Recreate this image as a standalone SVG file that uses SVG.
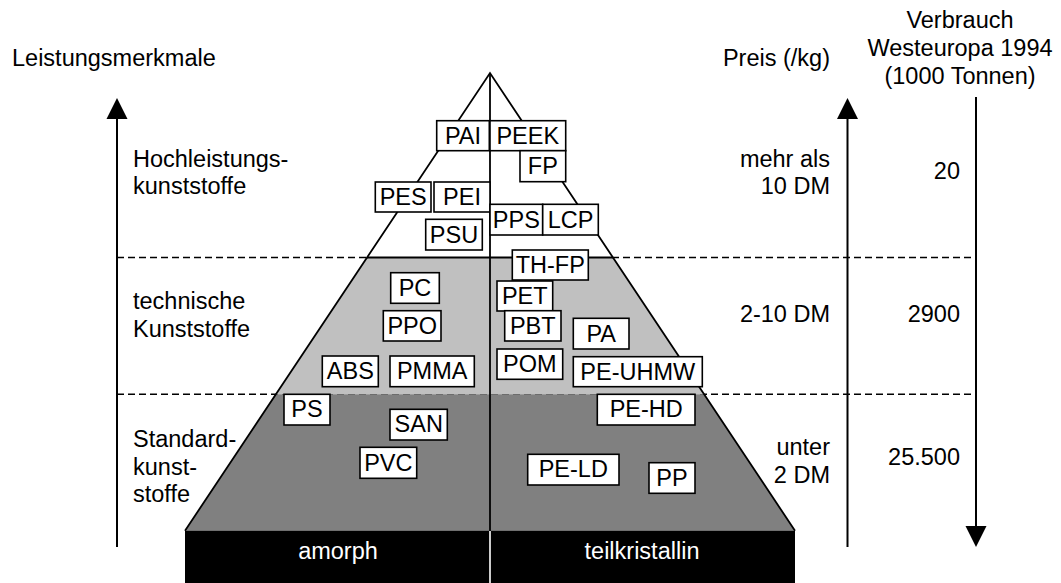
<svg xmlns="http://www.w3.org/2000/svg" width="1061" height="583" viewBox="0 0 1061 583">
<style>
text{font-family:"Liberation Sans",Arial,sans-serif;font-size:23.5px;fill:#000}
.c{text-anchor:middle}
.e{text-anchor:end}
.w{fill:#fff}
.box rect{fill:#fff;stroke:#000;stroke-width:1.6}
.dash{stroke:#000;stroke-width:1.6;stroke-dasharray:7,4;fill:none}
.ax{stroke:#000;stroke-width:2;fill:none}
.edge{stroke:#000;stroke-width:1.8;fill:none;stroke-linejoin:miter}
</style>
<rect width="1061" height="583" fill="#fff"/>
<g id="guides">
<line class="dash" x1="117" y1="257.5" x2="976" y2="257.5"/>
<line class="dash" x1="117" y1="394.3" x2="976" y2="394.3"/>
</g>
<g id="pyramid">
<polygon points="490,73 367,257.5 613,257.5" fill="#fff"/>
<polygon points="367,257.5 613,257.5 704.2,394.3 275.8,394.3" fill="#c0c0c0"/>
<polygon points="275.8,394.3 704.2,394.3 795,530.7 185,530.7" fill="#808080"/>
<polyline class="edge" points="185,530.7 490,73 795,530.7"/>
<line class="edge" x1="367" y1="257.5" x2="613" y2="257.5"/>
<line class="edge" x1="490" y1="73" x2="490" y2="531"/>
<rect x="185" y="530.7" width="610" height="52.3" fill="#000"/>
<line x1="490" y1="531" x2="490" y2="583" stroke="#fff" stroke-width="1.6"/>
<text class="c w" x="338" y="559">amorph</text>
<text class="c w" x="642" y="559">teilkristallin</text>
</g>
<g id="connectors">
<line class="ax" x1="117" y1="117" x2="117" y2="547"/>
<polygon points="117,98 106.5,119 127.5,119"/>
<line class="ax" x1="847.5" y1="117" x2="847.5" y2="547"/>
<polygon points="847.5,98 837,119 858,119"/>
<line class="ax" x1="976" y1="97" x2="976" y2="528"/>
<polygon points="976,547 965.5,526 986.5,526"/>
</g>
<g id="labels">
<text x="12" y="66">Leistungsmerkmale</text>
<text class="e" x="830" y="66">Preis (/kg)</text>
<text class="c" x="960" y="28">Verbrauch</text>
<text class="c" x="960" y="56">Westeuropa 1994</text>
<text class="c" x="960" y="84">(1000 Tonnen)</text>
<text x="133" y="166.5">Hochleistungs-</text>
<text x="133" y="194">kunststoffe</text>
<text x="133" y="309">technische</text>
<text x="133" y="337">Kunststoffe</text>
<text x="133" y="447">Standard-</text>
<text x="133" y="474.5">kunst-</text>
<text x="133" y="502">stoffe</text>
<text class="e" x="830" y="166.5">mehr als</text>
<text class="e" x="830" y="194">10 DM</text>
<text class="e" x="830" y="322">2-10 DM</text>
<text class="e" x="830" y="455">unter</text>
<text class="e" x="830" y="482.5">2 DM</text>
<text class="e" x="960" y="179">20</text>
<text class="e" x="960" y="322">2900</text>
<text class="e" x="960" y="465">25.500</text>
</g>
<g class="box" id="n-PAI"><rect x="436.7" y="120.7" width="52.6" height="30"/><text class="c" x="463" y="143.5">PAI</text></g>
<g class="box" id="n-PEEK"><rect x="490" y="120.7" width="75.7" height="30"/><text class="c" x="527.8" y="143.5">PEEK</text></g>
<g class="box" id="n-FP"><rect x="520" y="150.7" width="45.7" height="31"/><text class="c" x="542.8" y="174">FP</text></g>
<g class="box" id="n-PES"><rect x="375.3" y="182" width="55.7" height="30"/><text class="c" x="403.2" y="205">PES</text></g>
<g class="box" id="n-PEI"><rect x="434" y="182" width="56" height="30"/><text class="c" x="462" y="205">PEI</text></g>
<g class="box" id="n-PPS"><rect x="490" y="204.3" width="52.7" height="30.7"/><text class="c" x="516.3" y="227.5">PPS</text></g>
<g class="box" id="n-LCP"><rect x="542.7" y="204.3" width="55.6" height="30.7"/><text class="c" x="570.5" y="227.5">LCP</text></g>
<g class="box" id="n-PSU"><rect x="425.7" y="219.3" width="56.6" height="30.7"/><text class="c" x="454" y="242.5">PSU</text></g>
<g class="box" id="n-THFP"><rect x="512.3" y="250" width="76" height="30"/><text class="c" x="550.3" y="273">TH-FP</text></g>
<g class="box" id="n-PC"><rect x="390.7" y="272.7" width="48.6" height="30.6"/><text class="c" x="415" y="295.7">PC</text></g>
<g class="box" id="n-PET"><rect x="497" y="281" width="55.7" height="30"/><text class="c" x="524.8" y="304">PET</text></g>
<g class="box" id="n-PPO"><rect x="383.3" y="310.7" width="57.7" height="30.3"/><text class="c" x="412.2" y="333.7">PPO</text></g>
<g class="box" id="n-PBT"><rect x="504.7" y="310.7" width="56.3" height="30.3"/><text class="c" x="532.8" y="333.7">PBT</text></g>
<g class="box" id="n-PA"><rect x="573.3" y="318.3" width="55.7" height="30.7"/><text class="c" x="601.2" y="341.5">PA</text></g>
<g class="box" id="n-ABS"><rect x="322.3" y="356" width="56" height="30.7"/><text class="c" x="350.3" y="379">ABS</text></g>
<g class="box" id="n-PMMA"><rect x="390" y="356" width="84.3" height="30.7"/><text class="c" x="432.2" y="379">PMMA</text></g>
<g class="box" id="n-POM"><rect x="497" y="349" width="65.7" height="30.3"/><text class="c" x="529.8" y="372">POM</text></g>
<g class="box" id="n-PEUHMW"><rect x="573.3" y="356.7" width="129" height="30"/><text class="c" x="637.8" y="379.5">PE-UHMW</text></g>
<g class="box" id="n-PS"><rect x="284" y="394.3" width="46" height="30.7"/><text class="c" x="307" y="417.3">PS</text></g>
<g class="box" id="n-SAN"><rect x="390" y="409.3" width="57.3" height="30.7"/><text class="c" x="418.7" y="432.3">SAN</text></g>
<g class="box" id="n-PVC"><rect x="360" y="447.3" width="56.7" height="31"/><text class="c" x="388.3" y="470.5">PVC</text></g>
<g class="box" id="n-PEHD"><rect x="597.3" y="394.3" width="97.7" height="30.7"/><text class="c" x="646.2" y="417.3">PE-HD</text></g>
<g class="box" id="n-PELD"><rect x="527.7" y="454.3" width="91.3" height="30.7"/><text class="c" x="573.3" y="477.3">PE-LD</text></g>
<g class="box" id="n-PP"><rect x="649" y="462.7" width="46" height="30.6"/><text class="c" x="672" y="485.7">PP</text></g>
</svg>
